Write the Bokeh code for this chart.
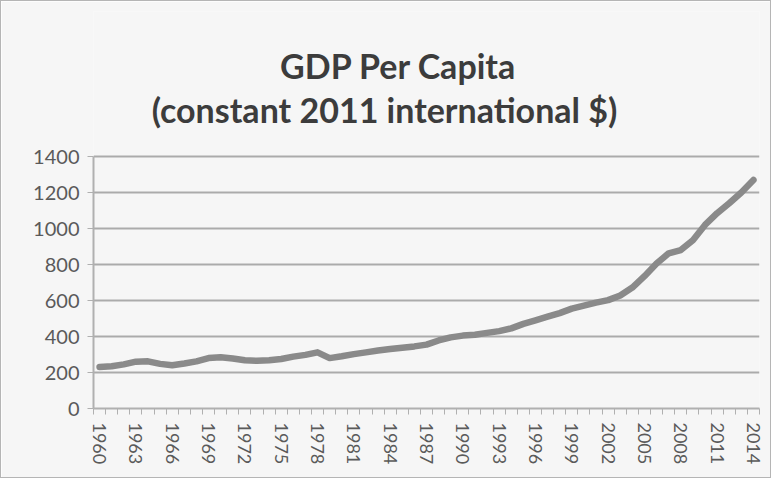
from bokeh.plotting import figure
from bokeh.models import FixedTicker, Label, ColumnDataSource
from bokeh.embed import file_html
from bokeh.resources import INLINE

years = list(range(1960, 2015))
gdp = [230, 235, 245, 260, 262, 248, 240, 250, 262, 280,
       285, 278, 268, 265, 268, 275, 288, 298, 312, 280,
       290, 302, 312, 322, 330, 338, 345, 355, 378, 395,
       405, 410, 420, 430, 445, 470, 490, 510, 530, 555,
       572, 588, 602, 628, 672, 735, 805, 862, 880, 935,
       1020, 1085, 1140, 1200, 1270]
y_ticks = [0, 200, 400, 600, 800, 1000, 1200, 1400]
x_label_years = list(range(1960, 2015, 3))
title_line1 = "GDP Per Capita"
title_line2 = "(constant 2011 international $)"

# layout (pixels, relative to the figure)
W, H = 771, 478
left, right, bottom, top = 92, 13, 71, 10
axis_top_px = 155          # where the 1400 gridline sits
frame_h = H - top - bottom
plot_h = H - bottom - axis_top_px
y_max_axis = y_ticks[-1]
y_end = y_max_axis * frame_h / plot_h
x_start, x_end = years[0] - 0.5, years[-1] + 0.5
frame_w = W - left - right

def px_to_y(py):
    return (H - bottom - py) * y_max_axis / plot_h

def px_to_x(px):
    return x_start + (px - left) * (x_end - x_start) / frame_w

src = ColumnDataSource(dict(year=years, gdp=gdp))

bg = "#f6f6f6"
p = figure(width=W, height=H, output_backend="svg", toolbar_location=None,
           x_range=(x_start, x_end), y_range=(0, y_end),
           min_border_left=left, min_border_right=right, min_border_bottom=bottom,
           min_border_top=top, background_fill_color=bg, border_fill_color=bg,
           outline_line_color=None)
p.styles = {"border": "1px solid #b5b5b5"}

title_style = dict(text_font="Lato", text_font_size="34px", text_font_style="bold",
                   text_color="#3c3c3c", text_align="center",
                   text_baseline="alphabetic")
p.add_layout(Label(x=px_to_x(397), y=px_to_y(64), text=title_line1, **title_style))
p.add_layout(Label(x=px_to_x(383), y=px_to_y(108), text=title_line2, **title_style))

p.line("year", "gdp", source=src, line_color="#8a8a8a", line_width=6.5,
       line_join="round", line_cap="round")

p.xgrid.visible = False
p.ygrid.grid_line_color = "#ababab"
p.ygrid.grid_line_width = 2

p.yaxis.ticker = FixedTicker(ticks=y_ticks)
p.yaxis.bounds = (0, y_max_axis)
p.yaxis.axis_line_color = "#b0b0b0"
p.yaxis.axis_line_width = 2
p.yaxis.major_tick_line_color = "#b0b0b0"
p.yaxis.major_tick_out = 6
p.yaxis.major_tick_in = 0
p.yaxis.minor_tick_line_color = None
p.yaxis.major_label_text_font = "Lato"
p.yaxis.major_label_text_font_size = "20px"
p.yaxis.major_label_text_color = "#5a5a5a"
p.yaxis.major_label_standoff = 8

p.xaxis.ticker = FixedTicker(ticks=x_label_years,
                             minor_ticks=[y - 0.5 for y in years] + [x_end])
p.xaxis.axis_line_color = "#b0b0b0"
p.xaxis.axis_line_width = 2
p.xaxis.major_tick_line_color = None
p.xaxis.minor_tick_line_color = "#b0b0b0"
p.xaxis.minor_tick_out = 6
p.xaxis.minor_tick_in = 0
p.xaxis.major_label_orientation = "vertical"
p.xaxis.major_label_text_font = "Lato"
p.xaxis.major_label_text_font_size = "18px"
p.xaxis.major_label_text_color = "#5a5a5a"
p.xaxis.major_label_standoff = 8

open("out.html", "w").write(file_html(p, INLINE))
